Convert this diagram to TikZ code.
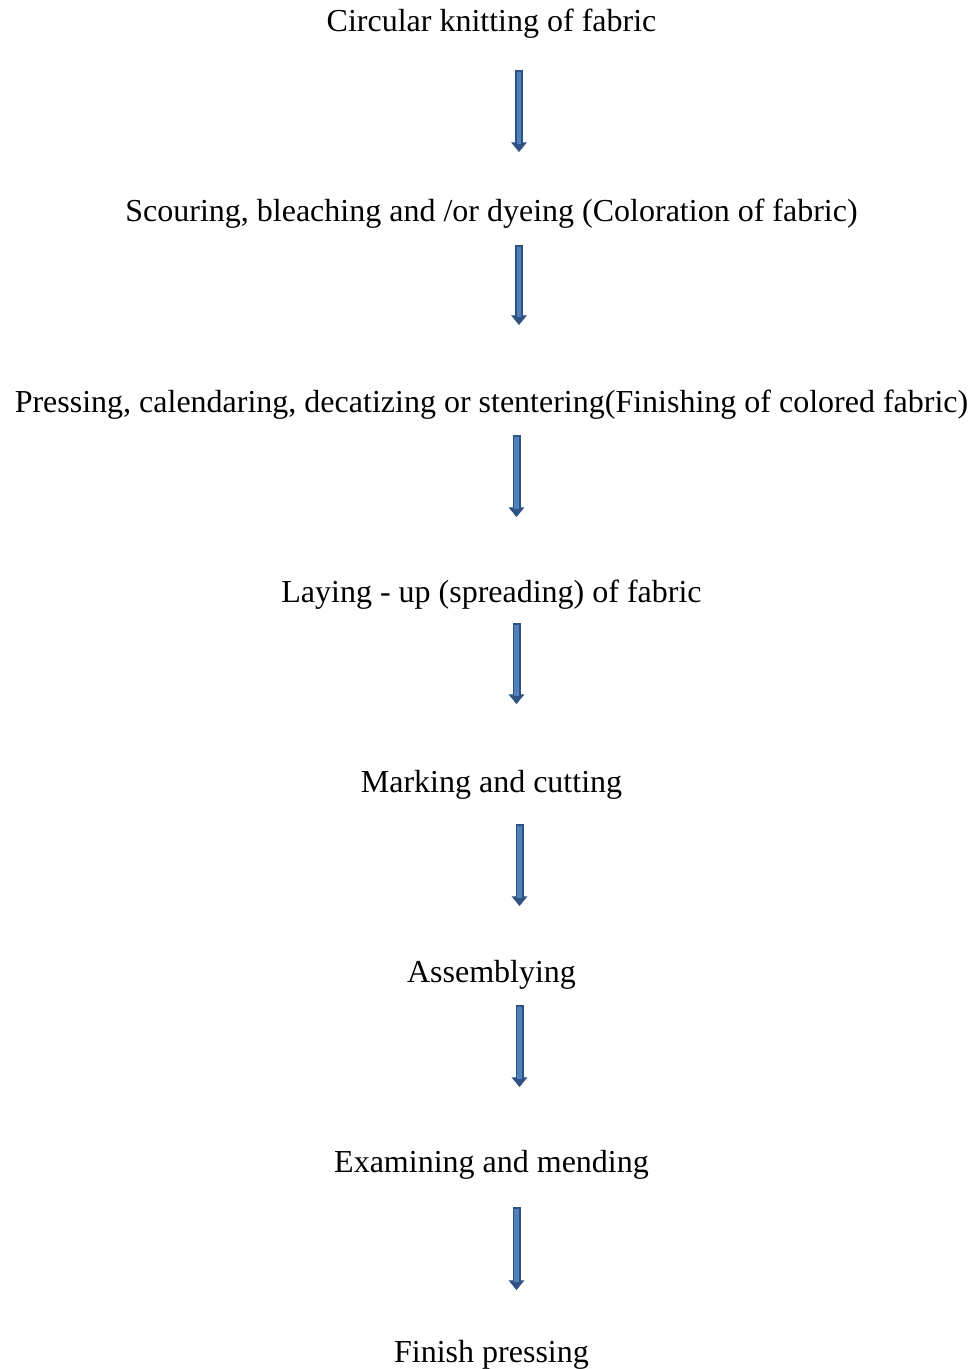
\documentclass[tikz,border=0pt]{standalone}
\usepackage{fontspec}
\setmainfont{Liberation Serif}
\usepackage{tikz}
\usetikzlibrary{arrows.meta,calc}
\definecolor{arrowline}{HTML}{2F5283}
\definecolor{arrowfill}{HTML}{4F81BD}
\tikzset{
  stage/.style={inner sep=0pt, anchor=base, font=\fontsize{16}{19}\selectfont},
  flow/.style={draw=arrowline, line width=4pt,
    -{Triangle[length=4.8pt, width=7.8pt, line width=0.4pt]},
    postaction={draw=arrowfill, line width=2.3pt, shorten >=4pt, shorten <=0.8pt, -}}
}

\begin{document}
\begin{tikzpicture}[x=0.5pt, y=-0.5pt]
      \useasboundingbox (0, 0) rectangle (976, 1369);

      \node[stage] (knit) at (491.5, 32) {Circular knitting of fabric};
      \node[stage] (dye) at (491.5, 222) {Scouring, bleaching and /or dyeing (Coloration of fabric)};
      \node[stage] (finish) at (491.5, 412) {Pressing, calendaring, decatizing or stentering(Finishing of colored fabric)};
      \node[stage] (lay) at (491.5, 602) {Laying - up (spreading) of fabric};
      \node[stage] (cut) at (491.5, 792) {Marking and cutting};
      \node[stage] (assemble) at (491.5, 982) {Assemblying};
      \node[stage] (examine) at (491.5, 1172) {Examining and mending};
      \node[stage] (press) at (491.5, 1362) {Finish pressing};

      % block arrows between the stages
      \draw[flow] ([shift={(27.5, 38)}]knit.base) -- ([shift={(27.5, -70)}]dye.base);
      \draw[flow] ([shift={(27.5, 23)}]dye.base) -- ([shift={(27.5, -87)}]finish.base);
      \draw[flow] ([shift={(25, 23)}]finish.base) -- ([shift={(25, -85)}]lay.base);
      \draw[flow] ([shift={(25, 21)}]lay.base) -- ([shift={(25, -88)}]cut.base);
      \draw[flow] ([shift={(28, 32)}]cut.base) -- ([shift={(28, -76)}]assemble.base);
      \draw[flow] ([shift={(28, 23)}]assemble.base) -- ([shift={(28, -85)}]examine.base);
      \draw[flow] ([shift={(25, 35)}]examine.base) -- ([shift={(25, -72)}]press.base);
\end{tikzpicture}
\end{document}
